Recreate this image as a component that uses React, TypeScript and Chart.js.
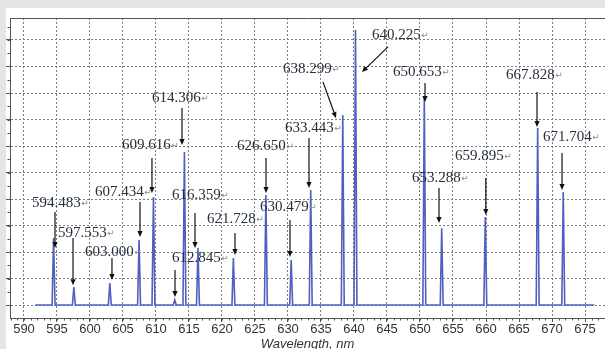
import React, { useEffect, useRef } from "react";
import { Chart, registerables } from "chart.js";

Chart.register(...registerables);

// ---- data ----
const peakWavelengths = [
  594.483, 597.553, 603.0, 607.434, 609.616, 612.845, 614.306, 616.359, 621.728,
  626.65, 630.479, 633.443, 638.299, 640.225, 650.653, 653.288, 659.895, 667.828, 671.704,
];
const peakIntensities = [
  2.53, 0.68, 0.83, 2.45, 4.08, 0.19, 5.77, 2.15, 1.77,
  4.15, 1.7, 4.34, 7.17, 10.38, 7.81, 2.9, 3.32, 6.68, 4.26,
];
const spectrumStart = 591.7;
const spectrumEnd = 676.4;
const xTickValues = [590, 595, 600, 605, 610, 615, 620, 625, 630, 635, 640, 645, 650, 655, 660, 665, 670, 675];
const yGridValues = [0, 1, 2, 3, 4, 5, 6, 7, 8, 9, 10];
const xTitle = "Wavelength, nm";

// ---- annotation layout (data coordinates) ----
const labelLambda = [
  591.21, 595.15, 599.24, 600.76, 604.85, 612.43, 609.39, 612.43, 617.73,
  622.27, 625.76, 629.55, 629.24, 642.73, 645.91, 648.79, 655.3, 663.03, 668.64,
];
const labelLevel = [
  3.85, 2.72, 2.0, 4.26, 6.04, 1.77, 7.81, 4.15, 3.25,
  6.0, 3.7, 6.68, 8.91, 10.19, 8.79, 4.79, 5.62, 8.68, 6.34,
];
const arrowFrom: [number, number][] = [
  [594.7, 3.51], [597.43, 2.53], [603.33, 1.77], [607.58, 3.89], [609.39, 5.55],
  [612.88, 1.32], [613.94, 7.43], [615.91, 3.47], [621.97, 2.72], [626.67, 5.55],
  [630.3, 3.21], [633.18, 6.3], [635.3, 8.42], [645.15, 9.74], [650.76, 8.38],
  [652.88, 4.42], [659.97, 4.79], [667.73, 8.04], [671.52, 5.74],
];
const arrowTo: [number, number][] = [
  [594.7, 2.15], [597.43, 0.75], [603.33, 0.94], [607.58, 2.57], [609.39, 4.23],
  [612.88, 0.3], [613.94, 6.04], [615.91, 2.15], [621.97, 1.89], [626.67, 4.23],
  [630.3, 1.81], [633.18, 4.42], [637.27, 7.06], [641.21, 8.79], [650.76, 7.66],
  [652.88, 3.09], [659.97, 3.4], [667.73, 6.72], [671.52, 4.34],
];

const peakHalfWidth = 0.22;

function buildSpectrum() {
  const pts: { x: number; y: number }[] = [{ x: spectrumStart, y: 0 }];
  peakWavelengths.forEach((w, i) => {
    pts.push({ x: w - peakHalfWidth, y: 0 });
    pts.push({ x: w, y: peakIntensities[i] });
    pts.push({ x: w + peakHalfWidth, y: 0 });
  });
  pts.push({ x: spectrumEnd, y: 0 });
  return pts;
}

const backgroundPlugin = {
  id: "bgPanel",
  beforeDraw(chart: any) {
    const { ctx, width, height } = chart;
    ctx.save();
    ctx.fillStyle = "#e5e5e5";
    ctx.fillRect(0, 0, width, height);
    ctx.fillStyle = "#ffffff";
    ctx.fillRect(6, 8, width - 6, height - 8);
    ctx.restore();
  },
};

const framePlugin = {
  id: "frameTicks",
  afterDraw(chart: any) {
    const { ctx, chartArea } = chart;
    const xs = chart.scales.x;
    const ys = chart.scales.y;
    ctx.save();
    ctx.strokeStyle = "#555";
    ctx.lineWidth = 1;
    ctx.beginPath();
    ctx.moveTo(chartArea.left, chartArea.top + 0.5);
    ctx.lineTo(chartArea.right, chartArea.top + 0.5);
    ctx.stroke();
    // minor ticks
    ctx.beginPath();
    for (let v = Math.ceil(xs.min); v <= xs.max; v += 1) {
      const px = Math.round(xs.getPixelForValue(v)) + 0.5;
      ctx.moveTo(px, chartArea.bottom);
      ctx.lineTo(px, chartArea.bottom + 2.5);
    }
    for (let v = 0; v <= 10.5; v += 0.5) {
      const py = Math.round(ys.getPixelForValue(v)) + 0.5;
      ctx.moveTo(chartArea.left - 2.5, py);
      ctx.lineTo(chartArea.left, py);
    }
    ctx.stroke();
    ctx.restore();
  },
};

const annotationPlugin = {
  id: "peakLabels",
  afterDraw(chart: any) {
    const { ctx } = chart;
    const xs = chart.scales.x;
    const ys = chart.scales.y;
    ctx.save();
    // arrows
    ctx.strokeStyle = "#111";
    ctx.fillStyle = "#111";
    ctx.lineWidth = 1.2;
    arrowFrom.forEach((f, i) => {
      const t = arrowTo[i];
      const x1 = xs.getPixelForValue(f[0]);
      const y1 = ys.getPixelForValue(f[1]);
      const x2 = xs.getPixelForValue(t[0]);
      const y2 = ys.getPixelForValue(t[1]);
      const ang = Math.atan2(y2 - y1, x2 - x1);
      const hl = 6;
      const hw = 2.6;
      const bx = x2 - hl * Math.cos(ang);
      const by = y2 - hl * Math.sin(ang);
      ctx.beginPath();
      ctx.moveTo(x1, y1);
      ctx.lineTo(bx, by);
      ctx.stroke();
      ctx.beginPath();
      ctx.moveTo(x2, y2);
      ctx.lineTo(bx + hw * Math.sin(ang), by - hw * Math.cos(ang));
      ctx.lineTo(bx - hw * Math.sin(ang), by + hw * Math.cos(ang));
      ctx.closePath();
      ctx.fill();
    });
    // labels
    ctx.textBaseline = "middle";
    ctx.textAlign = "left";
    peakWavelengths.forEach((w, i) => {
      const txt = w.toFixed(3);
      const x = xs.getPixelForValue(labelLambda[i]);
      const y = ys.getPixelForValue(labelLevel[i]);
      ctx.font = '15px "Liberation Serif"';
      ctx.fillStyle = "#25303e";
      ctx.fillText(txt, x, y);
      const tw = ctx.measureText(txt).width;
      ctx.font = '9px "DejaVu Sans"';
      ctx.fillStyle = "#8a8a8a";
      ctx.fillText("\u21B5", x + tw + 0.5, y + 1);
    });
    ctx.restore();
  },
};

export default function App() {
  const ref = useRef<HTMLCanvasElement | null>(null);
  useEffect(() => {
    if (!ref.current) return;
    const gridCommon = {
      color: "#7d7d7d",
      lineWidth: 1,
      drawTicks: true,
      tickLength: 4,
      tickColor: "#555",
    };
    const chart = new Chart(ref.current, {
      type: "line",
      data: {
        datasets: [
          {
            data: buildSpectrum(),
            borderColor: "#4f5fc2",
            borderWidth: 1.6,
            pointRadius: 0,
            tension: 0,
            fill: false,
          },
        ],
      },
      options: {
        responsive: false,
        animation: false,
        layout: { padding: { left: 0, right: 0, top: 18, bottom: 0 } },
        plugins: { legend: { display: false }, tooltip: { enabled: false } },
        scales: {
          x: {
            type: "linear",
            min: 587.88,
            max: 678.03,
            afterBuildTicks: (s: any) => {
              s.ticks = xTickValues.map((v) => ({ value: v }));
            },
            afterFit: (s: any) => {
              s.height = 31;
            },
            grid: gridCommon,
            border: { display: true, color: "#555", width: 1, dash: [2, 2] },
            ticks: {
              font: { family: "Liberation Sans", size: 13 },
              color: "#333",
              padding: 0,
              maxRotation: 0,
              autoSkip: false,
            },
            title: {
              display: true,
              text: xTitle,
              font: { family: "Liberation Sans", size: 13, style: "italic" },
              color: "#333",
              padding: { top: 0, bottom: -3 },
            },
          },
          y: {
            type: "linear",
            min: -0.49,
            max: 10.83,
            afterBuildTicks: (s: any) => {
              s.ticks = yGridValues.map((v) => ({ value: v }));
            },
            afterFit: (s: any) => {
              s.width = 10;
            },
            grid: gridCommon,
            border: { display: true, color: "#555", width: 1, dash: [2, 2] },
            ticks: { display: false },
          },
        },
      },
      plugins: [backgroundPlugin, framePlugin, annotationPlugin],
    } as any);
    return () => chart.destroy();
  }, []);
  return (
    <div style={{ position: "fixed", left: 0, top: 0, width: 605, height: 349 }}>
      <canvas ref={ref} width={605} height={349} style={{ display: "block" }} />
    </div>
  );
}
